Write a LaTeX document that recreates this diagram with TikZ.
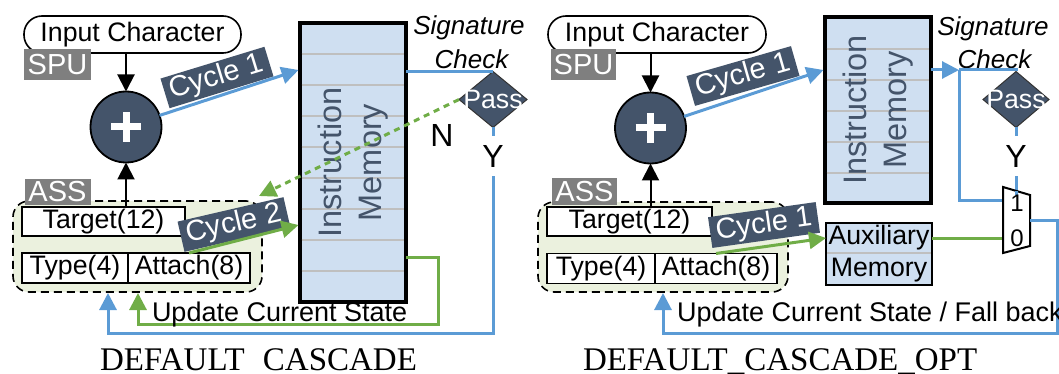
\documentclass[tikz,border=0pt]{standalone}
\usepackage{fontspec}
\setmainfont{Liberation Serif}
\setsansfont{Liberation Sans}
\usetikzlibrary{arrows.meta,shapes.geometric,calc}
\definecolor{slate}{HTML}{44546A}
\definecolor{memblue}{HTML}{CFDFF1}
\definecolor{lblue}{HTML}{5B9BD5}
\definecolor{lgreen}{HTML}{70AD47}
\definecolor{assfill}{HTML}{EBF1DE}
\definecolor{sepgray}{HTML}{BFBFBF}
\definecolor{tagg}{HTML}{7F7F7F}
\newcommand\fsNorm{\sffamily\fontsize{26.7pt}{30pt}\selectfont}
\newcommand\fsUpd{\sffamily\fontsize{27pt}{30pt}\selectfont}
\newcommand\fsTag{\sffamily\fontsize{29pt}{32pt}\selectfont}
\newcommand\fsMem{\sffamily\fontsize{32.5pt}{40pt}\selectfont}
\newcommand\fsYN{\sffamily\fontsize{32pt}{36pt}\selectfont}
\newcommand\fsSig{\sffamily\itshape\fontsize{26pt}{30pt}\selectfont}
\newcommand\fsCyc{\sffamily\fontsize{29pt}{32pt}\selectfont}
\newcommand\fsMux{\sffamily\fontsize{24pt}{28pt}\selectfont}
\newcommand\fsCap{\rmfamily\fontsize{33pt}{36pt}\selectfont}
\tikzset{
  every node/.style={inner sep=0pt, outer sep=0pt},
  arr/.style={-{Triangle[length=17pt,width=17pt]}},
  pill/.style={draw, line width=1.6pt, rounded corners=18pt, fill=white, minimum height=37pt, font=\fsNorm},
  graytag/.style={fill=tagg, text=white, font=\fsTag},
  adder/.style={circle, draw, line width=1.8pt, fill=slate, minimum size=71pt},
  plusbar/.style={white, line width=7pt},
  field/.style={draw, line width=1.8pt, fill=white, minimum height=29pt, font=\fsNorm},
  assbox/.style={draw, dashed, dash pattern=on 8pt off 5pt, line width=1.6pt, fill=assfill, rounded corners=16pt},
  membox/.style={draw, line width=3.3pt, fill=memblue, minimum width=106pt},
  sepline/.style={draw=sepgray, line width=1.5pt},
  memtext/.style={rotate=90, text=slate, font=\fsMem, align=center},
  cyc/.style={fill=slate, text=white, font=\fsCyc, minimum height=31pt, inner xsep=6pt},
  bline/.style={draw=lblue, line width=3pt},
  gline/.style={draw=lgreen, line width=3pt},
  blk/.style={draw=black, line width=2pt},
  passd/.style={diamond, fill=slate, draw=black!80, line width=1pt, minimum width=68pt, minimum height=56pt},
  passt/.style={text=white, font=\fsNorm},
  sigtext/.style={font=\fsSig, anchor=base},
  yntext/.style={font=\fsYN},
  updtext/.style={font=\fsUpd, anchor=base west},
  captext/.style={font=\fsCap, anchor=base west},
}
\begin{document}
\begin{tikzpicture}[x=1pt,y=-1pt]
\useasboundingbox (0,0) rectangle (1059,374);
\clip (0,0) rectangle (1059,374);

% ================= LEFT: DEFAULT CASCADE =================
\node[pill, minimum width=217pt] (inL) at (132.5,34.5) {Input Character};
\node[graytag, minimum width=67pt, minimum height=31pt] (spuL) at (57.5,64.5) {SPU};
\node[adder] (c1) at (126,127) {};
\draw[plusbar] ($(c1)+(-15,0)$) -- ($(c1)+(15,0)$);
\draw[plusbar] ($(c1)+(0,-15)$) -- ($(c1)+(0,15)$);
\draw[blk, arr] (inL.south -| c1) -- (c1.north);

\node[assbox, minimum width=249pt, minimum height=91pt] (assL) at (137.5,246.5) {};
\node[graytag, minimum width=66pt, minimum height=26pt] (asstL) at (57.5,192) {ASS};
\node[field, minimum width=163pt] (tgtL) at (103.5,221.5) {Target(12)};
\node[field, minimum width=106pt, minimum height=30pt] (typL) at (75,268) {Type(4)};
\node[field, minimum width=122pt, minimum height=30pt] (attL) at (189,268) {Attach(8)};
\draw[blk, arr] (tgtL.north -| c1) -- (c1.south);

\node[membox, minimum height=279pt] (imL) at (353,162.5) {};
\foreach \yy in {54,85,116,147,178,209,240,271}
  \draw[sepline] ([xshift=1.7pt]imL.west |- 0,\yy) -- ([xshift=-1.7pt]imL.east |- 0,\yy);
\node[memtext] (imLt) at (imL) {Instruction\\Memory};

\node[cyc, rotate=17] (cy1L) at (217,77.5) {Cycle 1};
\coordinate (imLa) at (298.5,70);
\draw[bline, arr] (c1.19) -- (imLa);

\node[passd] (pL) at (493,99.5) {};
\node[passt] (pLt) at (pL) {Pass};
\node[sigtext] (sigL1) at (469,35) {Signature};
\node[sigtext] (sigL2) at (471.5,69) {Check};
\draw[bline] (imL.east |- pL.north) -- (pL.north);
\node[yntext] (nL) at (442,135) {N};

\coordinate (fbL) at (108,293);
\draw[bline, arr] (pL.south) |- ($(fbL)+(0,40)$) -- (fbL);
\node[yntext, fill=white, inner xsep=2pt, inner ysep=9pt] (yL) at (493,156) {Y};

\coordinate (gc1L) at (438,257);
\coordinate (gbL) at (138,293);
\draw[gline, arr] (imL.east |- gc1L) -- (gc1L) |- ($(gbL)+(0,31)$) -- (gbL);
\node[updtext] (updL) at (152,321) {Update Current State};

\coordinate (dtL) at (259,196);
\draw[gline, dash pattern=on 6pt off 5pt, arr] (pL.west) -- (dtL);
\node[cyc, rotate=13] (cy2L) at (234,224.5) {Cycle 2};
\coordinate (imLg) at (298.5,225);
\draw[gline, arr] (attL.north) -- (imLg);

\node[captext] (capL) at (100,370) {DEFAULT\hspace{0.55em}CASCADE};

% ================= RIGHT: DEFAULT_CASCADE_OPT =================
\node[pill, minimum width=218pt] (inR) at (657,34.5) {Input Character};
\node[graytag, minimum width=65pt, minimum height=31pt] (spuR) at (583.5,64.5) {SPU};
\node[adder] (c2) at (650.5,128) {};
\draw[plusbar] ($(c2)+(-15,0)$) -- ($(c2)+(15,0)$);
\draw[plusbar] ($(c2)+(0,-15)$) -- ($(c2)+(0,15)$);
\draw[blk, arr] (inR.south -| c2) -- (c2.north);

\node[assbox, minimum width=250pt, minimum height=90pt] (assR) at (663,247) {};
\node[graytag, minimum width=65pt, minimum height=27pt] (asstR) at (584.5,191.5) {ASS};
\node[field, minimum width=165pt] (tgtR) at (629.5,221.5) {Target(12)};
\node[field, minimum width=108pt, minimum height=30pt] (typR) at (601,268.5) {Type(4)};
\node[field, minimum width=122pt, minimum height=30pt] (attR) at (716,268.5) {Attach(8)};
\draw[blk, arr] (tgtR.north -| c2) -- (c2.south);

\node[membox, minimum height=186pt] (imR) at (878,110) {};
\foreach \yy in {49,80,111,142,173}
  \draw[sepline] ([xshift=1.7pt]imR.west |- 0,\yy) -- ([xshift=-1.7pt]imR.east |- 0,\yy);
\node[memtext] (imRt) at (imR) {Instruction\\Memory};

\node[cyc, rotate=16] (cy1R) at (743,76) {Cycle 1};
\coordinate (imRa) at (823.5,70);
\draw[bline, arr] (c2.19) -- (imRa);

\node[passd, minimum width=66pt] (pR) at (1016,99.5) {};
\node[passt] (pRt) at (pR) {Pass};
\node[sigtext] (sigR1) at (993,36) {Signature};
\node[sigtext] (sigR2) at (994.5,69) {Check};

% mux
\coordinate (m1) at (1003,187);
\coordinate (m2) at (1030,195);
\coordinate (m3) at (1030,246);
\coordinate (m4) at (1003,253);
\coordinate (mIn1) at (1003,200);
\coordinate (mIn0) at (1003,238);
\coordinate (mOut) at (1030,220);
\coordinate (mTop) at (1016,191);

\coordinate (jR) at (959,70);
\draw[bline, arr] (imR.east |- jR) -- (jR);
\draw[bline] (jR) -| (pR.north);
\draw[bline] (jR) |- (mIn1);
\draw[bline] (pR.south) -- (mTop);
\node[yntext, fill=white, inner xsep=2pt, inner ysep=9pt] (yR) at (1016,156) {Y};

\node[draw, line width=2.7pt, fill=memblue, minimum width=106pt, minimum height=62pt] (auxR) at (879,254) {};
\draw[draw=sepgray, line width=2pt] ([xshift=1.4pt]auxR.west |- 0,253) -- ([xshift=-1.4pt]auxR.east |- 0,253);
\node[font=\fsNorm, anchor=base] (auxR1) at (879,244) {Auxiliary};
\node[font=\fsNorm, anchor=base] (auxR2) at (879,276) {Memory};
\draw[gline] (auxR.east |- mIn0) -- (mIn0);

\draw[line width=2pt, fill=white] (m1) -- (m2) -- (m3) -- (m4) -- cycle;
\draw[bline] (mTop) -- ++(0,4);
\node[font=\fsMux] (mx1) at (1017,203) {1};
\node[font=\fsMux] (mx0) at (1017,238) {0};

\coordinate (fbR) at (663,293);
\coordinate (rcR) at (1057,220);
\draw[bline, arr] (mOut) -- (rcR) |- ($(fbR)+(0,40)$) -- (fbR);
\node[updtext] (updR) at (677,321) {Update Current State / Fall back};

\node[cyc, rotate=8] (cy1Rb) at (764,225) {Cycle 1};
\draw[gline, arr] (attR.north) -- (auxR.west |- mIn0);

\node[captext] (capR) at (583,370) {DEFAULT\_CASCADE\_OPT};
\end{tikzpicture}
\end{document}
